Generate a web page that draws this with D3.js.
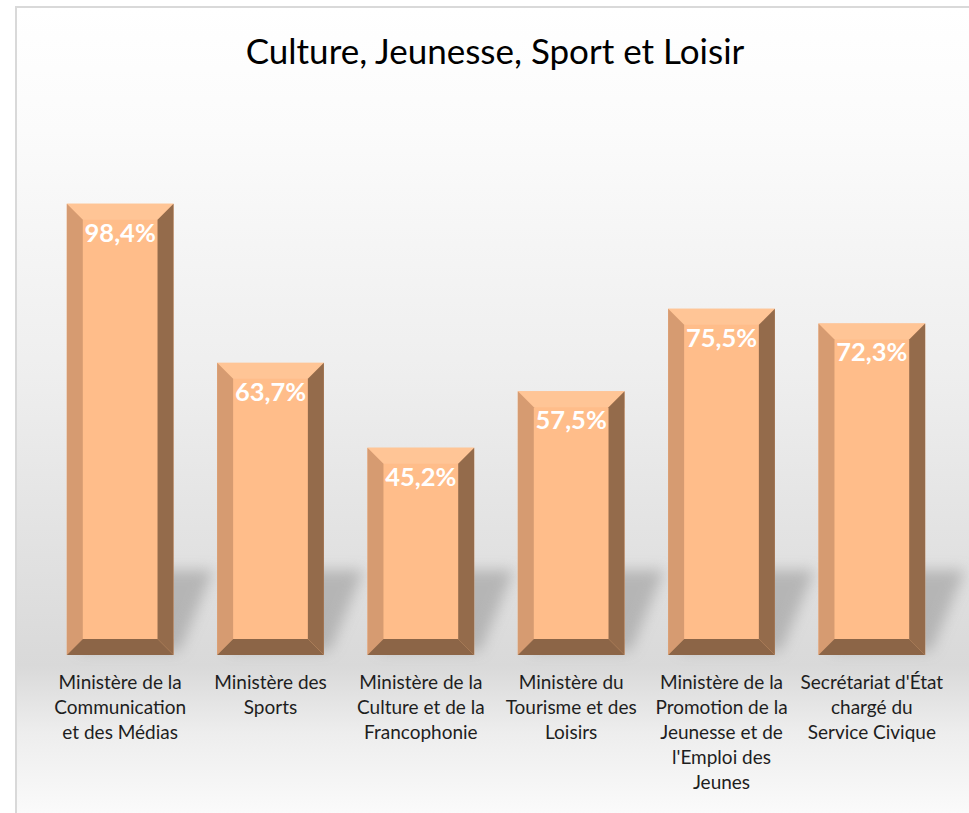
<!DOCTYPE html>
<html>
<head>
<meta charset="utf-8">
<script src="https://cdn.jsdelivr.net/npm/d3@7"></script>
<style>
  body{margin:0;background:#fff;}
  svg{display:block;}
</style>
</head>
<body>
<script>
var width=969,height=813;

// data
var title="Culture, Jeunesse, Sport et Loisir";
var categories=[
  "Ministère de la\nCommunication\net des Médias",
  "Ministère des\nSports",
  "Ministère de la\nCulture et de la\nFrancophonie",
  "Ministère du\nTourisme et des\nLoisirs",
  "Ministère de la\nPromotion de la\nJeunesse et de\nl'Emploi des\nJeunes",
  "Secrétariat d'État\nchargé du\nService Civique"
];
var values=[98.4,63.7,45.2,57.5,75.5,72.3];

var fmt=function(v){return d3.format(".1f")(v).replace(".",",")+"%";};

var svg=d3.select("body").append("svg")
    .attr("width",width)
    .attr("height",height);

var defs=svg.append("defs");
var grad=defs.append("linearGradient")
    .attr("id","bg")
    .attr("x1",0).attr("y1",0).attr("x2",0).attr("y2",1);
[[0,"#ffffff"],[0.15,"#fbfbfb"],[0.45,"#eeeeee"],[0.8,"#d9d9d9"],[0.88,"#ededed"],[1,"#fdfdfd"]]
  .forEach(function(s){grad.append("stop").attr("offset",s[0]).attr("stop-color",s[1]);});

defs.append("filter").attr("id","blur")
    .attr("x","-50%").attr("y","-50%").attr("width","200%").attr("height","200%")
  .append("feGaussianBlur").attr("stdDeviation",7);

// chart frame
svg.append("rect")
   .attr("x",16).attr("y",7)
   .attr("width",width+10).attr("height",height+10)
   .attr("fill","url(#bg)")
   .attr("stroke","#d9d9d9")
   .attr("stroke-width",2);

var x=d3.scaleBand()
    .domain(categories)
    .range([45,947])
    .paddingInner(0.29)
    .paddingOuter(0.145);
var y=d3.scaleLinear()
    .domain([0,100])
    .range([655,196.4]);

var bars=categories.map(function(c,i){
  return {cat:c,value:values[i],x0:x(c),x1:x(c)+x.bandwidth(),yt:y(values[i]),yb:y(0)};
});

// shadows
svg.append("g").selectAll("path")
   .data(bars)
   .enter()
   .append("path")
   .attr("d",function(d){
     var h=85,s=40;
     return "M"+(d.x0+10)+","+(d.yb-4)+
            "L"+(d.x0+10+s)+","+(d.yb-h)+
            "L"+(d.x1+s)+","+(d.yb-h)+
            "L"+(d.x1+6)+","+(d.yb-4)+"Z";
   })
   .attr("fill","#a4a4a4")
   .attr("opacity",0.7)
   .attr("filter","url(#blur)");

var b=16;
var g=svg.append("g").selectAll("g")
   .data(bars)
   .enter()
   .append("g");

g.append("rect")
 .attr("x",function(d){return d.x0;})
 .attr("y",function(d){return d.yt;})
 .attr("width",function(d){return d.x1-d.x0;})
 .attr("height",function(d){return d.yb-d.yt;})
 .attr("fill","#ffbd8a");

// top bevel
g.append("path")
 .attr("d",function(d){
   return "M"+d.x0+","+d.yt+"L"+d.x1+","+d.yt+"L"+(d.x1-b)+","+(d.yt+b)+"L"+(d.x0+b)+","+(d.yt+b)+"Z";})
 .attr("fill","#ffc596");
// left bevel
g.append("path")
 .attr("d",function(d){
   return "M"+d.x0+","+d.yt+"L"+(d.x0+b)+","+(d.yt+b)+"L"+(d.x0+b)+","+(d.yb-b)+"L"+d.x0+","+d.yb+"Z";})
 .attr("fill","#d69b71");
// right bevel
g.append("path")
 .attr("d",function(d){
   return "M"+d.x1+","+d.yt+"L"+d.x1+","+d.yb+"L"+(d.x1-b)+","+(d.yb-b)+"L"+(d.x1-b)+","+(d.yt+b)+"Z";})
 .attr("fill","#946b4b");
// bottom bevel
g.append("path")
 .attr("d",function(d){
   return "M"+d.x0+","+d.yb+"L"+(d.x0+b)+","+(d.yb-b)+"L"+(d.x1-b)+","+(d.yb-b)+"L"+d.x1+","+d.yb+"Z";})
 .attr("fill","#8c6547");

// value labels
g.append("text")
 .attr("x",function(d){return (d.x0+d.x1)/2;})
 .attr("y",function(d){return d.yt+38;})
 .attr("text-anchor","middle")
 .attr("font-family","Lato, 'Open Sans', sans-serif")
 .attr("font-weight","bold")
 .attr("font-size",25.5)
 .attr("fill","#ffffff")
 .text(function(d){return fmt(d.value);});

// category labels
var labels=svg.append("g").selectAll("text")
   .data(categories)
   .enter()
   .append("text")
   .attr("text-anchor","middle")
   .attr("font-family","Lato, 'Open Sans', sans-serif")
   .attr("font-size",19)
   .attr("fill","#1e1e1e")
   .attr("transform",function(d){return "translate("+(x(d)+x.bandwidth()/2)+",689)";});
labels.selectAll("tspan")
   .data(function(d){return d.split("\n");})
   .enter()
   .append("tspan")
   .attr("x",0)
   .attr("y",function(d,i){return i*25;})
   .text(function(d){return d;});

// title
svg.append("text")
   .attr("x",495)
   .attr("y",64)
   .attr("text-anchor","middle")
   .attr("font-family","Lato, 'Open Sans', sans-serif")
   .attr("font-size",35)
   .attr("fill","#000000")
   .text(title);
</script>
</body>
</html>
